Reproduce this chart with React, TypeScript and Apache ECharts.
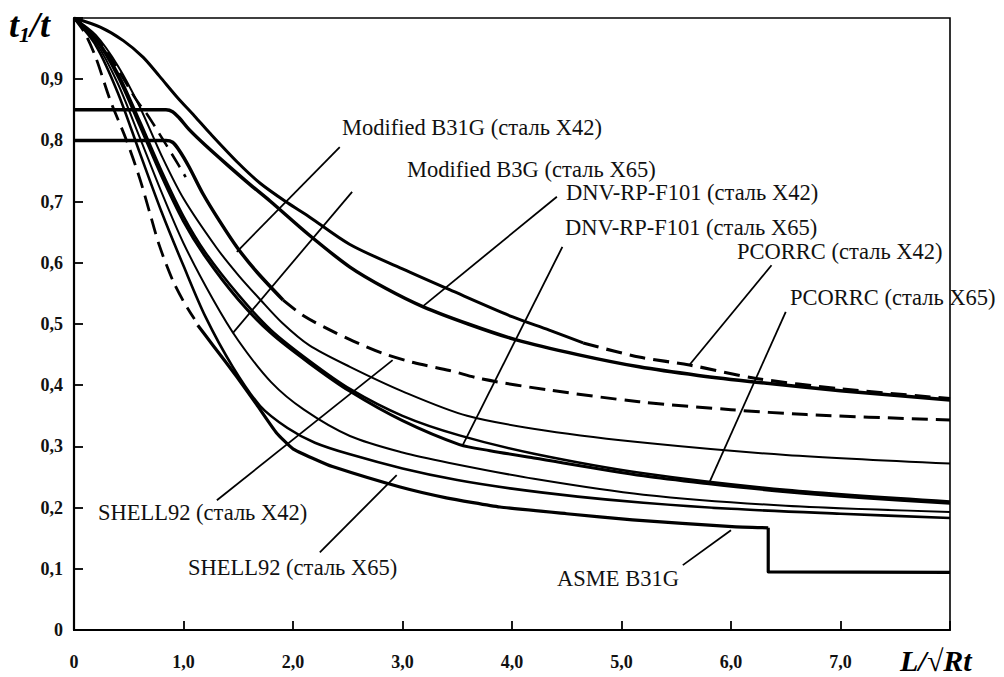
import React, { useEffect, useRef } from "react";
import * as echarts from "echarts";

// ---- tick labels ----
const xTickValues = [0, 1, 2, 3, 4, 5, 6, 7];
const xTickLabels = ["0", "1,0", "2,0", "3,0", "4,0", "5,0", "6,0", "7,0"];
const yTickValues = [0, 0.1, 0.2, 0.3, 0.4, 0.5, 0.6, 0.7, 0.8, 0.9];
const yTickLabels = ["0", "0,1", "0,2", "0,3", "0,4", "0,5", "0,6", "0,7", "0,8", "0,9"];

// ---- curves: [L/sqrt(Rt), t1/t] ----
const topCurve = [[0, 1], [0.24, 0.985], [0.45, 0.963], [0.63, 0.936], [0.78, 0.905], [0.94, 0.871], [1.1, 0.84], [1.24, 0.812], [1.5, 0.763], [1.7, 0.73], [1.95, 0.698], [2.15, 0.675], [2.52, 0.63], [3.0, 0.59], [3.43, 0.556], [4.0, 0.512], [4.34, 0.49], [4.65, 0.469]];
const topCurveDashedTail = [[4.65, 0.469], [5.16, 0.446], [5.62, 0.433], [6.23, 0.411], [7.0, 0.394], [8, 0.378]];
const flat085Curve = [[0, 0.85], [0.84, 0.85], [0.9, 0.847], [0.96, 0.837], [1.05, 0.818], [1.2, 0.792], [1.4, 0.76], [1.6, 0.729], [1.79, 0.701], [2.15, 0.645], [2.52, 0.593], [2.85, 0.558], [3.19, 0.528], [3.6, 0.5], [4.04, 0.474], [4.6, 0.45], [5.16, 0.43], [5.7, 0.416], [6.23, 0.405], [7.0, 0.391], [8, 0.376]];
const flat080Curve = [[0, 0.8], [0.84, 0.8], [0.9, 0.797], [0.96, 0.784], [1.05, 0.757], [1.18, 0.712], [1.33, 0.668], [1.49, 0.625], [1.67, 0.585], [1.91, 0.539]];
const middleDashed = [[1.91, 0.539], [2.1, 0.513], [2.34, 0.49], [2.55, 0.472], [2.82, 0.452], [3.1, 0.437], [3.43, 0.424], [3.73, 0.41], [4.34, 0.392], [5.16, 0.373], [6.0, 0.36], [6.69, 0.352], [8, 0.343]];
const earlyDashed = [[0, 1], [0.12, 0.982], [0.27, 0.953], [0.42, 0.91], [0.57, 0.866], [0.67, 0.842], [0.8, 0.805], [0.92, 0.77], [1.02, 0.74]];
const asmeDashed = [[0, 1], [0.1, 0.975], [0.2, 0.935], [0.33, 0.866], [0.48, 0.8], [0.6, 0.738], [0.69, 0.683], [0.78, 0.628], [0.9, 0.572], [1.0, 0.537], [1.1, 0.508]];
const asmeSolid = [[1.13, 0.498], [1.27, 0.465], [1.49, 0.413], [1.67, 0.368], [1.85, 0.322], [2.0, 0.296], [2.2, 0.279], [2.36, 0.267], [2.97, 0.234], [3.4, 0.216], [3.89, 0.201], [4.5, 0.19], [5.1, 0.18], [6.01, 0.169], [6.34, 0.167]];
const asmeStep = [[6.34, 0.167], [6.34, 0.095], [8, 0.094]];
const lowerCurve2 = [[0, 1], [0.2, 0.955], [0.4, 0.878], [0.6, 0.78], [0.8, 0.683], [1.0, 0.595], [1.2, 0.512], [1.45, 0.43], [1.7, 0.366], [1.95, 0.33], [2.2, 0.306], [2.52, 0.287], [3.0, 0.264], [3.5, 0.245], [4.0, 0.231], [4.6, 0.218], [5.2, 0.208], [6.0, 0.198], [7.0, 0.19], [8, 0.183]];
const lowerCurve1 = [[0, 1], [0.2, 0.96], [0.4, 0.893], [0.6, 0.805], [0.8, 0.715], [1.0, 0.632], [1.27, 0.54], [1.5, 0.473], [1.8, 0.405], [2.1, 0.36], [2.52, 0.317], [3.0, 0.29], [3.43, 0.273], [4.2, 0.247], [5.2, 0.221], [6.5, 0.203], [8, 0.193]];
const thickCurveA = [[0, 1], [0.2, 0.965], [0.4, 0.905], [0.6, 0.825], [0.8, 0.742], [1.0, 0.668], [1.2, 0.61], [1.5, 0.54], [1.8, 0.485], [2.15, 0.436], [2.52, 0.39], [3.0, 0.342], [3.52, 0.303], [3.8, 0.293], [4.2, 0.281], [5.2, 0.252], [5.8, 0.239], [6.5, 0.226], [7.2, 0.216], [8, 0.207]];
const thickCurveB = [[0, 1], [0.2, 0.967], [0.4, 0.91], [0.6, 0.832], [0.8, 0.75], [1.0, 0.676], [1.2, 0.617], [1.5, 0.548], [1.8, 0.49], [2.15, 0.44], [2.52, 0.394], [3.0, 0.35], [3.52, 0.318], [4.2, 0.288], [5.2, 0.256], [6.5, 0.229], [8, 0.21]];
const thinCurve = [[0, 1], [0.2, 0.972], [0.4, 0.922], [0.6, 0.855], [0.8, 0.775], [1.0, 0.705], [1.3, 0.625], [1.5, 0.58], [1.7, 0.54], [1.9, 0.502], [2.15, 0.465], [2.52, 0.43], [3.0, 0.39], [3.59, 0.35], [4.3, 0.326], [5.26, 0.305], [6.5, 0.286], [8, 0.272]];

// ---- annotation texts and leader lines (data coords) ----
const labelTexts = [
  "Modified B31G (сталь X42)",
  "Modified B3G (сталь X65)",
  "DNV-RP-F101 (сталь X42)",
  "DNV-RP-F101 (сталь X65)",
  "PCORRC (сталь X42)",
  "PCORRC (сталь X65)",
  "SHELL92 (сталь X42)",
  "SHELL92 (сталь X65)",
  "ASME B31G",
];
const leaderLines = [
  [[2.427, 0.789], [1.487, 0.618]],
  [[2.54, 0.716], [1.45, 0.485]],
  [[4.41, 0.708], [3.18, 0.528]],
  [[4.46, 0.626], [3.55, 0.302]],
  [[6.37, 0.596], [5.62, 0.433]],
  [[6.5, 0.52], [5.8, 0.24]],
  [[1.305, 0.212], [2.91, 0.441]],
  [[2.245, 0.127], [2.947, 0.253]],
  [[5.56, 0.106], [6.0, 0.163]],
];
// layout (pixels) for the label texts
const labelLayout = [
  [342, 127], [407, 169], [566, 192], [565, 227], [737, 251], [790, 297], [98, 512], [188, 567], [557, 578],
];

const SERIF = "Liberation Serif, Times New Roman, serif";

function lineSeries(data: number[][], width: number, dashed = false, smooth: number | boolean = 0.3) {
  return {
    type: "line",
    data,
    symbol: "none",
    showSymbol: false,
    smooth,
    silent: true,
    lineStyle: { color: "#000", width, type: dashed ? [16, 8] : "solid", cap: "butt", join: "round" },
    z: 3,
  };
}

export default function App() {
  const ref = useRef<HTMLDivElement>(null);
  useEffect(() => {
    if (!ref.current) return;
    const chart = echarts.init(ref.current, null, { renderer: "svg" });
    const fmt = (vals: number[], labels: string[]) => (v: number) => {
      const i = vals.findIndex((t) => Math.abs(t - v) < 1e-6);
      return i >= 0 ? labels[i] : "";
    };
    const series: any[] = [
      lineSeries(topCurve, 3),
      lineSeries(topCurveDashedTail, 3.2, true),
      lineSeries(flat085Curve, 3.5),
      lineSeries(flat080Curve, 3.5),
      lineSeries(middleDashed, 3, true),
      lineSeries(earlyDashed, 2.6, true),
      lineSeries(asmeDashed, 2.8, true),
      lineSeries(asmeSolid, 3.2, false, 0.15),
      lineSeries(asmeStep, 3.2, false, false),
      lineSeries(lowerCurve2, 2.6),
      lineSeries(lowerCurve1, 2),
      lineSeries(thickCurveA, 3),
      lineSeries(thickCurveB, 2.5),
      lineSeries(thinCurve, 2),
    ];
    leaderLines.forEach((d) => series.push(lineSeries(d, 1.8, false, false)));

    const graphics: any[] = labelTexts.map((t, i) => ({
      type: "text",
      x: labelLayout[i][0],
      y: labelLayout[i][1],
      silent: true,
      style: { text: t, fontFamily: SERIF, fontSize: 22.5, fill: "#111", align: "left", verticalAlign: "middle" },
    }));
    graphics.push({
      type: "text",
      x: 9,
      y: 25,
      silent: true,
      style: {
        text: "{a|t}{b|1}{a|/t}",
        align: "left",
        verticalAlign: "middle",
        rich: {
          a: { fontFamily: SERIF, fontSize: 36, fontWeight: "bold", fontStyle: "italic", fill: "#000", lineHeight: 40 },
          b: { fontFamily: SERIF, fontSize: 22, fontWeight: "bold", fontStyle: "italic", fill: "#000", lineHeight: 18, verticalAlign: "bottom" },
        },
      },
    });
    graphics.push({
      type: "text",
      x: 900,
      y: 660,
      silent: true,
      style: {
        text: "L/√Rt",
        fontFamily: SERIF,
        fontSize: 30,
        fontWeight: "bold",
        fontStyle: "italic",
        fill: "#000",
        align: "left",
        verticalAlign: "middle",
      },
    });

    chart.setOption({
      animation: false,
      backgroundColor: "#fff",
      grid: {
        left: 74,
        right: 54,
        top: 18,
        bottom: 47,
        containLabel: false,
        outerBoundsMode: "none",
        show: true,
        borderColor: "#000",
        borderWidth: 1.6,
      },
      xAxis: {
        type: "value",
        min: 0,
        max: 8,
        interval: 1,
        axisLine: { show: true, lineStyle: { color: "#000", width: 2.2 } },
        axisTick: { show: true, inside: true, length: 9, lineStyle: { color: "#000", width: 1.8 } },
        splitLine: { show: false },
        axisLabel: {
          formatter: fmt(xTickValues, xTickLabels),
          margin: 23,
          fontFamily: SERIF,
          fontWeight: "bold",
          fontSize: 18,
          color: "#111",
        },
      },
      yAxis: {
        type: "value",
        min: 0,
        max: 1,
        interval: 0.1,
        axisLine: { show: true, lineStyle: { color: "#000", width: 2.2 } },
        axisTick: { show: true, inside: true, length: 9, lineStyle: { color: "#000", width: 1.8 } },
        splitLine: { show: false },
        axisLabel: {
          formatter: fmt(yTickValues, yTickLabels),
          margin: 11,
          fontFamily: SERIF,
          fontWeight: "bold",
          fontSize: 18,
          color: "#111",
        },
      },
      graphic: graphics,
      series,
    });
    return () => chart.dispose();
  }, []);
  return (
    <div
      ref={ref}
      style={{ position: "fixed", left: 0, top: 0, width: 1004, height: 677, background: "#fff" }}
    />
  );
}
